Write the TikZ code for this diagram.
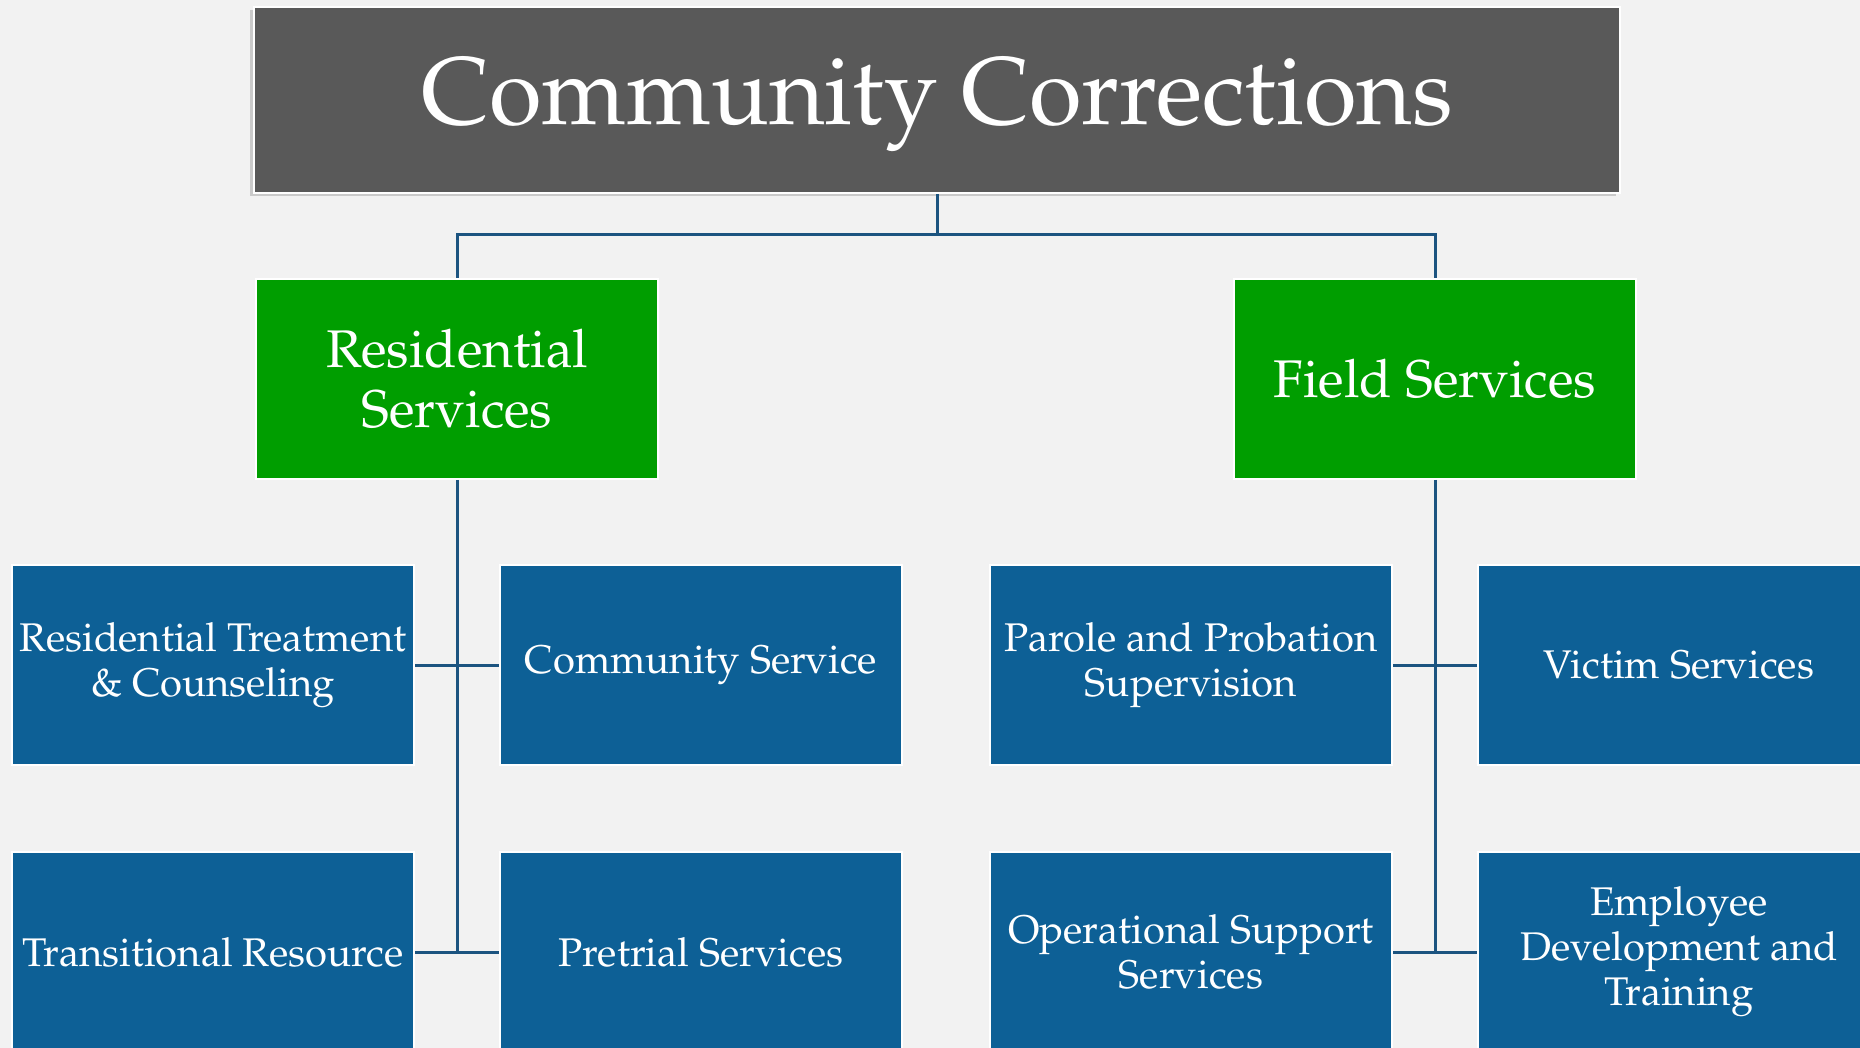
\documentclass[tikz,border=0pt]{standalone}
\usepackage[T1]{fontenc}
\usepackage{mathpazo}
\usetikzlibrary{shadows}

\definecolor{bgray}{RGB}{242,242,242}
\definecolor{topgray}{RGB}{89,89,89}
\definecolor{unitgreen}{RGB}{0,158,0}
\definecolor{unitblue}{RGB}{13,96,150}
\definecolor{linkblue}{RGB}{28,84,128}

\tikzset{
  topbox/.style={rectangle,draw=white,line width=1pt,fill=topgray,
    minimum width=683pt,minimum height=93pt,
    drop shadow={shadow xshift=-2pt,shadow yshift=-1.5pt,opacity=0.35}},
  toptext/.style={text=white,font=\fontsize{48}{54}\selectfont},
  unitbox/.style={rectangle,draw=white,line width=1pt,fill=unitgreen,text=white,
    minimum width=201pt,minimum height=100pt,align=center,
    font=\fontsize{26.5}{30}\selectfont},
  subbox/.style={rectangle,draw=white,line width=1pt,fill=unitblue,text=white,
    minimum width=201pt,minimum height=100pt,align=center,
    font=\fontsize{20}{22.5}\selectfont},
  link/.style={draw=linkblue,line width=1.5pt}
}

\begin{document}
\begin{tikzpicture}[x=0.5pt,y=-0.5pt]

\fill[bgray] (0,0) rectangle (1860,1048);
\useasboundingbox (0,0) rectangle (1860,1048);

\node[topbox] (title) at (937, 100) {};
\node[toptext] (titletext) at (937, 105) {Community Corrections};

\node[unitbox] (res) at (457, 379) {Residential\\Services};
\node[unitbox] (field) at (1435, 379) {Field Services};

\node[subbox] (treat) at (213, 665) {Residential Treatment\\\& Counseling};
\node[subbox] (commserv) at (701, 665) {Community Service};
\node[subbox] (trans) at (213, 952) {Transitional Resource};
\node[subbox] (pretrial) at (701, 952) {Pretrial Services};

\node[subbox] (parole) at (1191, 665) {Parole and Probation\\Supervision};
\node[subbox] (victim) at (1679, 665) {Victim Services};
\node[subbox] (opsupp) at (1191, 952) {Operational Support\\Services};
\node[subbox] (employee) at (1679, 952) {Employee\\Development and\\Training};

\coordinate (hub) at (937, 235);
\draw[link] (title.south) -- (hub);
\draw[link] (res.north) |- (hub) -| (field.north);

\draw[link] (res.south) -- (res.south |- trans.east);
\draw[link] (treat.east) -- (commserv.west);
\draw[link] (trans.east) -- (pretrial.west);

\draw[link] (field.south) -- (field.south |- opsupp.east);
\draw[link] (parole.east) -- (victim.west);
\draw[link] (opsupp.east) -- (employee.west);

\end{tikzpicture}
\end{document}
